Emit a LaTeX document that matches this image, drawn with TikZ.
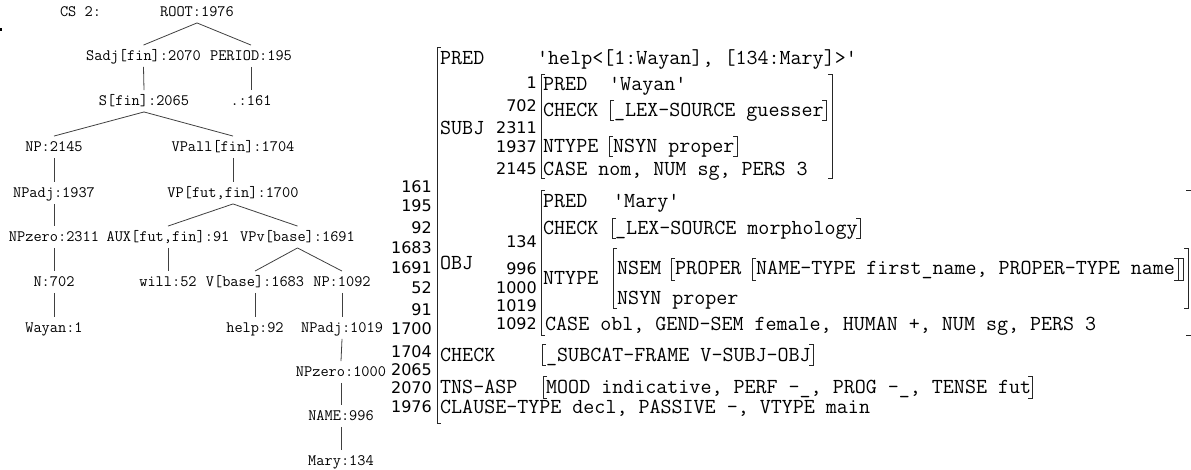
\documentclass[tikz,border=0pt]{standalone}
\usepackage{fontspec}
\newfontfamily\numfont{DejaVu Sans}
\usepackage{tikz}

\tikzset{
  tn/.style={font=\ttfamily\fontsize{15.9}{16}\selectfont, inner xsep=0pt, inner ysep=6pt, text height=9.5pt, text depth=0pt},
  fs/.style={font=\ttfamily\fontsize{21.4}{22}\selectfont, anchor=west, inner sep=0pt, text height=12.7pt, text depth=0pt},
  ix/.style={font=\numfont\fontsize{16}{17}\selectfont, anchor=east, inner sep=0pt, text height=11.7pt, text depth=0pt},
  br/.style={line width=0.9pt, black!85},
  tl/.style={line width=0.8pt, black!75}
}
\newcommand{\fsopen}[3]{\draw[br] (#1+4,#2) -- (#1,#2) -- (#1,#3) -- (#1+4,#3);}
\newcommand{\fsclose}[3]{\draw[br] (#1-4,#2) -- (#1,#2) -- (#1,#3) -- (#1-4,#3);}

\begin{document}
\begin{tikzpicture}[x=1pt,y=-1pt]
\useasboundingbox (0,0) rectangle (1191,469);
\fill (0,28) rectangle (2,31);

\node[tn] (cs) at (80.5,12) {CS 2:};
\node[tn] (root) at (197,12) {ROOT:1976};
\node[tn] (sadj) at (143.5,56) {Sadj[fin]:2070};
\node[tn] (period) at (251,56) {PERIOD:195};
\node[tn] (s) at (144,101) {S[fin]:2065};
\node[tn] (dot) at (251,101) {.:161};
\node[tn] (np) at (54,147) {NP:2145};
\node[tn] (vpall) at (233,147) {VPall[fin]:1704};
\node[tn] (npadj) at (54,193) {NPadj:1937};
\node[tn] (vp) at (233,193) {VP[fut,fin]:1700};
\node[tn] (npzero) at (54,237) {NPzero:2311};
\node[tn] (aux) at (168,237) {AUX[fut,fin]:91};
\node[tn] (vpv) at (297.5,237) {VPv[base]:1691};
\node[tn] (n) at (54,282) {N:702};
\node[tn] (will) at (168,282) {will:52};
\node[tn] (vbase) at (255,282) {V[base]:1683};
\node[tn] (npobj) at (342,282) {NP:1092};
\node[tn] (wayan) at (54,328) {Wayan:1};
\node[tn] (help) at (255,328) {help:92};
\node[tn] (npadjobj) at (342,328) {NPadj:1019};
\node[tn] (npzeroobj) at (341,372) {NPzero:1000};
\node[tn] (name) at (341,416) {NAME:996};
\node[tn] (mary) at (341,461) {Mary:134};

\draw[tl] (root.south) -- (sadj.north);
\draw[tl] (root.south) -- (period.north);
\draw[tl] (sadj.south) -- (s.north);
\draw[tl] (period.south) -- (dot.north);
\draw[tl] (s.south) -- (np.north);
\draw[tl] (s.south) -- (vpall.north);
\draw[tl] (np.south) -- (npadj.north);
\draw[tl] (vpall.south) -- (vp.north);
\draw[tl] (npadj.south) -- (npzero.north);
\draw[tl] (vp.south) -- (aux.north);
\draw[tl] (vp.south) -- (vpv.north);
\draw[tl] (npzero.south) -- (n.north);
\draw[tl] (aux.south) -- (will.north);
\draw[tl] (vpv.south) -- (vbase.north);
\draw[tl] (vpv.south) -- (npobj.north);
\draw[tl] (n.south) -- (wayan.north);
\draw[tl] (vbase.south) -- (help.north);
\draw[tl] (npobj.south) -- (npadjobj.north);
\draw[tl] (npadjobj.south) -- (npzeroobj.north);
\draw[tl] (npzeroobj.south) -- (name.north);
\draw[tl] (name.south) -- (mary.north);

\node[ix] (i161) at (432,187) {161};
\node[ix] (i195) at (432,206) {195};
\node[ix] (i92) at (432,228) {92};
\node[ix] (i1683) at (432,248) {1683};
\node[ix] (i1691) at (432,268) {1691};
\node[ix] (i52) at (432,288) {52};
\node[ix] (i91) at (432,310) {91};
\node[ix] (i1700) at (432,329) {1700};
\node[ix] (i1704) at (432,352) {1704};
\node[ix] (i2065) at (432,370) {2065};
\node[ix] (i2070) at (432,388) {2070};
\node[ix] (i1976) at (432,407) {1976};
\fsopen{437}{47}{423}

\node[fs] (pred) at (440,58) {PRED};
\node[fs] (predval) at (537,58) {'help<[1:Wayan], [134:Mary]>'};

\node[fs] (subj) at (440,128) {SUBJ};
\node[ix] (i1) at (537,83) {1};
\node[ix] (i702) at (537,106) {702};
\node[ix] (i2311) at (537,128) {2311};
\node[ix] (i1937) at (537,147) {1937};
\node[ix] (i2145) at (537,169) {2145};
\fsopen{541}{74}{178}
\fsclose{832}{74}{178}
\node[fs] (spred) at (543,84) {PRED};
\node[fs] (spredval) at (609,84) {'Wayan'};
\node[fs] (scheck) at (543,110) {CHECK};
\fsopen{610}{100}{120}
\node[fs] (slex) at (614,110) {\_LEX-SOURCE guesser};
\fsclose{826}{100}{120}
\node[fs] (sntype) at (543,146) {NTYPE};
\fsopen{609}{136}{156}
\node[fs] (snsyn) at (613,146) {NSYN proper};
\fsclose{737}{136}{156}
\node[fs] (scase) at (543,169) {CASE nom, NUM sg, PERS 3};

\node[fs] (obj) at (440,263) {OBJ};
\node[ix] (i134) at (537,242) {134};
\node[ix] (i996) at (537,269) {996};
\node[ix] (i1000) at (537,288) {1000};
\node[ix] (i1019) at (537,306) {1019};
\node[ix] (i1092) at (537,324) {1092};
\fsopen{541}{190}{335}
\node[fs] (opred) at (543,201) {PRED};
\node[fs] (opredval) at (613,201) {'Mary'};
\node[fs] (ocheck) at (543,228) {CHECK};
\fsopen{612}{218}{238}
\node[fs] (olex) at (615,228) {\_LEX-SOURCE morphology};
\fsclose{860}{218}{238}
\node[fs] (ontype) at (543,278) {NTYPE};
\fsopen{613}{248}{308}
\fsclose{1188}{248}{308}
\node[fs] (onsem) at (617,268) {NSEM};
\fsopen{671}{258}{280}
\node[fs] (oproper) at (675,268) {PROPER};
\fsopen{752}{258}{280}
\node[fs] (oname) at (756,268) {NAME-TYPE first\_name, PROPER-TYPE name};
\fsclose{1178}{258}{280}
\fsclose{1183}{258}{280}
\node[fs] (onsyn) at (617,298) {NSYN proper};
\node[fs] (ocase) at (545,324) {CASE obl, GEND-SEM female, HUMAN +, NUM sg, PERS 3};
\draw[br] (1186,190) -- (1191,190);
\draw[br] (1186,335) -- (1191,335);

\node[fs] (check) at (440,355) {CHECK};
\fsopen{542}{344}{365}
\node[fs] (subcat) at (546,355) {\_SUBCAT-FRAME V-SUBJ-OBJ};
\fsclose{813}{344}{365}
\node[fs] (tns) at (440,387) {TNS-ASP};
\fsopen{543}{376}{398}
\node[fs] (mood) at (546,387) {MOOD indicative, PERF -\_, PROG -\_, TENSE fut};
\fsclose{1032}{376}{398}
\node[fs] (clause) at (440,407) {CLAUSE-TYPE decl, PASSIVE -, VTYPE main};
\end{tikzpicture}
\end{document}
